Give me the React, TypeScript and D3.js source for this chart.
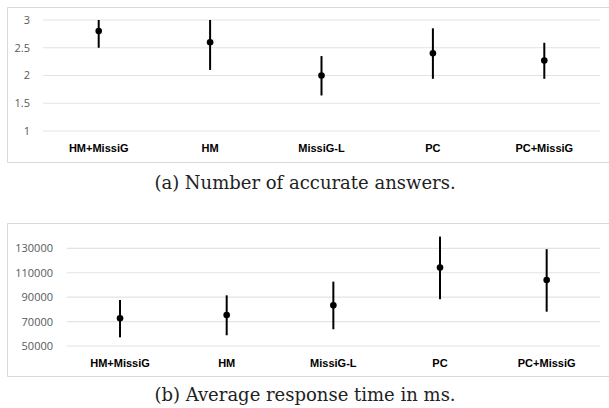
import React from "react";
import * as d3 from "d3";

const categories = ["HM+MissiG", "HM", "MissiG-L", "PC", "PC+MissiG"];
const accMean = [2.8, 2.6, 2.0, 2.4, 2.27];
const accLow = [2.5, 2.1, 1.64, 1.94, 1.94];
const accHigh = [3.0, 3.0, 2.35, 2.85, 2.59];
const accTicks = [1, 1.5, 2, 2.5, 3];

const timeMean = [72700, 75400, 83300, 114200, 104100];
const timeLow = [57100, 58800, 63700, 88300, 78100];
const timeHigh = [87700, 91500, 102700, 139600, 129300];
const timeTicks = [50000, 70000, 90000, 110000, 130000];

const captions = ["(a) Number of accurate answers.", "(b) Average response time in ms."];

const W = 609;
const H = 408;

type PanelProps = {
  frameTop: number;
  frameBottom: number;
  plotLeft: number;
  plotRight: number;
  yDomain: [number, number];
  yRange: [number, number];
  ticks: number[];
  mean: number[];
  low: number[];
  high: number[];
  labelY: number;
  tickLabelX: number;
  caption: string;
  captionY: number;
};

function Panel(p: PanelProps) {
  const x = d3.scaleBand<string>().domain(categories).range([p.plotLeft, p.plotRight]);
  const y = d3.scaleLinear().domain(p.yDomain).range(p.yRange);
  const cx = (c: string) => (x(c) as number) + x.bandwidth() / 2;
  return (
    <g>
      <line x1={7.5} x2={W + 5} y1={p.frameTop + 0.5} y2={p.frameTop + 0.5} stroke="#d9d9d9" strokeWidth={1} />
      <line x1={7.5} x2={W + 5} y1={p.frameBottom + 0.5} y2={p.frameBottom + 0.5} stroke="#d9d9d9" strokeWidth={1} />
      <line x1={7.5} x2={7.5} y1={p.frameTop + 0.5} y2={p.frameBottom + 0.5} stroke="#d9d9d9" strokeWidth={1} />
      {p.ticks.map((t) => (
        <g key={t}>
          <line x1={p.plotLeft} x2={p.plotRight} y1={y(t)} y2={y(t)} stroke="#e3e3e3" strokeWidth={1.2} />
          <text
            x={p.tickLabelX}
            y={y(t)}
            dy="0.36em"
            textAnchor="end"
            fontFamily="'Open Sans', 'Noto Sans', sans-serif"
            fontSize={11}
            fill="#595959"
          >
            {String(t)}
          </text>
        </g>
      ))}
      {categories.map((c, i) => (
        <g key={c}>
          <line x1={cx(c)} x2={cx(c)} y1={y(p.low[i])} y2={y(p.high[i])} stroke="#000" strokeWidth={2} />
          <circle cx={cx(c)} cy={y(p.mean[i])} r={3.3} fill="#000" />
          <text
            x={cx(c)}
            y={p.labelY}
            textAnchor="middle"
            fontFamily="'Liberation Sans', Arial, sans-serif"
            fontWeight="bold"
            fontSize={11}
            fill="#000"
          >
            {c}
          </text>
        </g>
      ))}
      <text
        x={305}
        y={p.captionY}
        textAnchor="middle"
        fontFamily="'DejaVu Serif', serif"
        fontSize={18}
        fill="#222"
      >
        {p.caption}
      </text>
    </g>
  );
}

export default function App() {
  return (
    <svg width={W} height={H} style={{ position: "absolute", left: 0, top: 0, background: "#fff" }}>
      <rect x={0} y={0} width={W} height={H} fill="#fff" />
      <Panel
        frameTop={7}
        frameBottom={162}
        plotLeft={43}
        plotRight={600}
        yDomain={[1, 3]}
        yRange={[131, 20]}
        ticks={accTicks}
        mean={accMean}
        low={accLow}
        high={accHigh}
        labelY={152}
        tickLabelX={30}
        caption={captions[0]}
        captionY={189}
      />
      <Panel
        frameTop={223}
        frameBottom={376}
        plotLeft={66.7}
        plotRight={600}
        yDomain={[50000, 130000]}
        yRange={[346, 248.3]}
        ticks={timeTicks}
        mean={timeMean}
        low={timeLow}
        high={timeHigh}
        labelY={366.5}
        tickLabelX={53}
        caption={captions[1]}
        captionY={401}
      />
    </svg>
  );
}
